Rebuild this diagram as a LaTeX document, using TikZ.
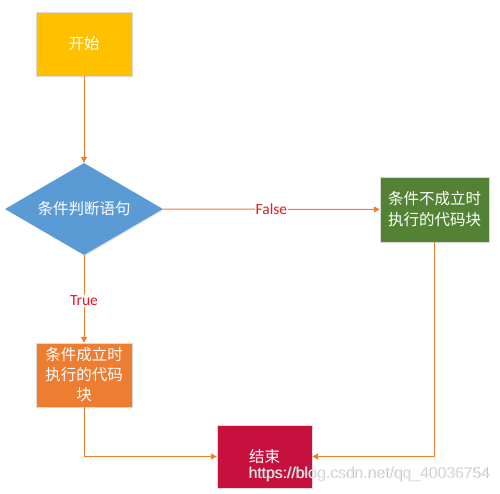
\documentclass[tikz,border=0pt]{standalone}
\usepackage{fontspec}
\setmainfont{Carlito}
\newfontfamily\cjk{Noto Sans CJK SC}
\newfontfamily\wmfont{Liberation Sans}
\usetikzlibrary{arrows.meta,shapes.geometric,shadows}
\definecolor{cstart}{HTML}{FFC000}
\definecolor{cdiam}{HTML}{5B9BD5}
\definecolor{cgreen}{HTML}{548235}
\definecolor{corange}{HTML}{ED7D31}
\definecolor{cend}{HTML}{C8103E}
\definecolor{cline}{HTML}{ED7D31}
\definecolor{clab}{HTML}{F0141E}
\tikzset{
  box/.style={rectangle, draw=white!85!black, line width=0.4pt, text=white, font=\cjk\fontsize{15.5}{21}\selectfont, align=center, inner sep=0pt, drop shadow={shadow xshift=1pt, shadow yshift=-1pt, opacity=0.25}},
  conn/.style={draw=cline, line width=1pt, -{Triangle[length=6pt,width=6pt]}},
  lab/.style={text=clab, font=\fontsize{15.5}{18}\selectfont, fill=white, inner sep=1pt}
}
\begin{document}
\begin{tikzpicture}[x=1pt,y=-1pt]
\useasboundingbox (0,0) rectangle (500,493);
\node[box, fill=cstart, minimum width=96pt, minimum height=64pt] (start) at (84,44) {开始};
\node[diamond, fill=cdiam, text=white, font=\cjk\fontsize{15.5}{18}\selectfont, inner sep=0pt, minimum width=158pt, minimum height=92pt, aspect=1.72, drop shadow={shadow xshift=1pt, shadow yshift=-1pt, opacity=0.2}] (cond) at (84,209) {条件判断语句};
\node[box, fill=cgreen, minimum width=109pt, minimum height=65pt] (no) at (434.5,209.5) {条件不成立时\\执行的代码块};
\node[box, fill=corange, minimum width=96pt, minimum height=64pt, font=\cjk\fontsize{15.5}{20}\selectfont] (yes) at (84,375) {条件成立时\\执行的代码\\块};
\node[box, fill=cend, minimum width=95pt, minimum height=63pt] (end) at (264.5,456.5) {结束};
\draw[conn] (start) -- (cond);
\draw[conn] (cond) -- node[lab, pos=0.5] {False} (no);
\draw[conn] (cond) -- node[lab, pos=0.52] {True} (yes);
\draw[conn] (yes) |- (end);
\draw[conn] (no) |- (end);
\node[text=black!30, font=\wmfont\fontsize{15.7}{18}\selectfont, anchor=west] (wmshadow) at (245.6,474.6) {https://blog.csdn.net/qq\_40036754};
\node[text=white!92!black, font=\wmfont\fontsize{15.7}{18}\selectfont, anchor=west] (wm) at (245,474) {https://blog.csdn.net/qq\_40036754};
\end{tikzpicture}
\end{document}
